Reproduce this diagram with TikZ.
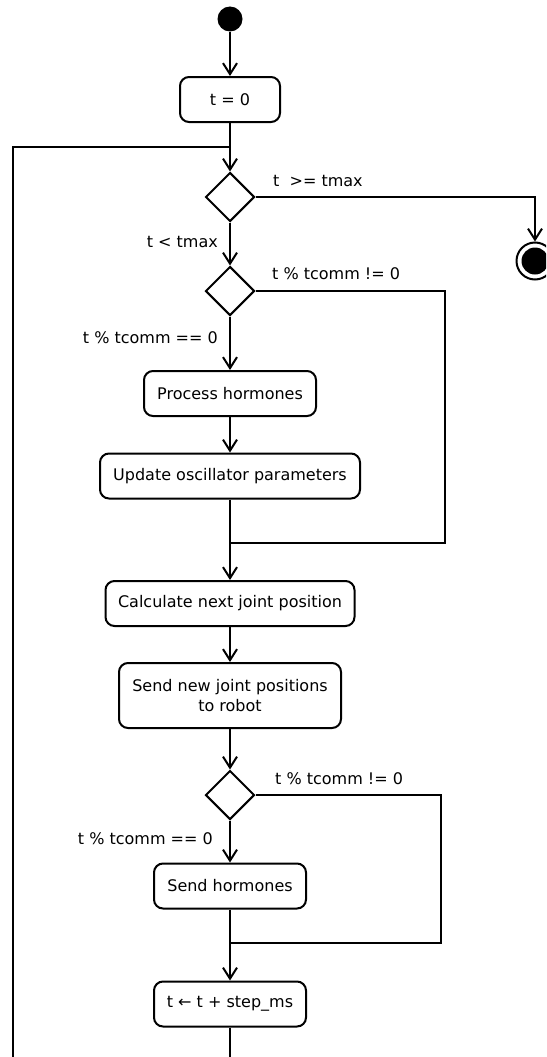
\documentclass[tikz,border=0pt]{standalone}
\usepackage{fontspec}
\setmainfont{DejaVu Sans}
\usetikzlibrary{shapes.geometric,arrows.meta}

\begin{document}
\begin{tikzpicture}[x=1pt,y=-1pt,
  txt/.style={font=\fontsize{16}{20}\selectfont},
  action/.style={txt, draw, line width=2pt, rounded corners=9pt,
    minimum height=45pt, align=center, inner sep=0pt},
  decision/.style={draw, diamond, line width=2pt, minimum width=49pt,
    minimum height=49pt, inner sep=0pt},
  wire/.style={line width=2pt},
  flow/.style={wire, -{Straight Barb[length=11pt,width=14pt,line width=2pt]}},
  guard/.style={txt, inner sep=0pt}]

\useasboundingbox (0,0) rectangle (546,1057);
\clip (0,0) rectangle (546,1057);

% initial and final states
\node[circle, fill, minimum size=25pt, inner sep=0pt] (start) at (230,19) {};
\node[circle, draw, line width=2pt, minimum size=37pt, inner sep=0pt] (stop) at (535,261) {};
\node[circle, fill, minimum size=27pt, inner sep=0pt] (stopdot) at (stop) {};

% actions
\node[action, minimum width=100pt] (init) at (230,99.5) {t = 0};
\node[action, minimum width=172pt] (ph) at (230,393.5) {Process hormones};
\node[action, minimum width=260pt] (upd) at (230,476) {Update oscillator parameters};
\node[action, minimum width=249pt] (calc) at (230,603.5) {Calculate next joint position};
\node[action, minimum width=222pt, minimum height=65pt] (send) at (230,695.5)
  {Send new joint positions\\to robot};
\node[action, minimum width=152pt] (sh) at (230,886) {Send hormones};
\node[action, minimum width=152pt] (tstep) at (230,1004) {t ← t + step\_ms};

% decisions
\node[decision] (d1) at (230,197) {};
\node[decision] (d2) at (230,291) {};
\node[decision] (d3) at (230,795) {};

% junction points
\coordinate (m0) at (230,147);
\coordinate (m1) at (230,543);
\coordinate (m2) at (230,943);

% main flow
\draw[flow] (start) -- (init);
\draw[flow] (init) -- (d1);
\draw[flow] (d1.east) -| (stop.north);
\draw[flow] (d1) -- (d2);
\draw[flow] (d2) -- (ph);
\draw[flow] (ph) -- (upd);
\draw[wire] (d2.east) -| (445,543) -- (m1);
\draw[flow] (upd) -- (calc);
\draw[flow] (calc) -- (send);
\draw[flow] (send) -- (d3);
\draw[flow] (d3) -- (sh);
\draw[wire] (d3.east) -| (441,943) -- (m2);
\draw[flow] (sh) -- (tstep);

% loop back to the first decision
\draw[wire] (tstep.south) -- (230,1080) -| (13,147) -- (m0);

% guards
\node[guard, anchor=west] at (273,181) {t\ \ >= tmax};
\node[guard, anchor=east] at (218,242) {t < tmax};
\node[guard, anchor=west] at (272,274) {t \% tcomm != 0};
\node[guard, anchor=east] at (218,338) {t \% tcomm == 0};
\node[guard, anchor=west] at (275,779) {t \% tcomm != 0};
\node[guard, anchor=east] at (213,839) {t \% tcomm == 0};
\end{tikzpicture}
\end{document}
